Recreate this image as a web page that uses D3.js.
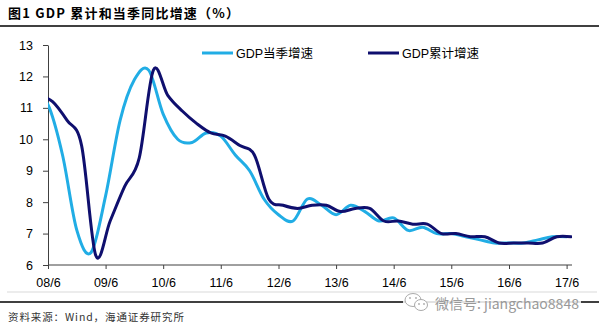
<!DOCTYPE html>
<html>
<head>
<meta charset="utf-8">
<script src="https://cdn.jsdelivr.net/npm/d3@7"></script>
<style>
  body { margin: 0; background: #fff; }
  svg { display: block; }
  .axis text { font-family: "Liberation Sans", Arial, sans-serif; font-size: 12.5px; fill: #000; }
  .axis line { stroke: #404040; }
</style>
</head>
<body>
<svg id="chart" width="599" height="330"></svg>
<script>
// quarter-end months, the first one only feeds the curve left of the axis
var quarters = [
  "2008-03","2008-06","2008-09","2008-12",
  "2009-03","2009-06","2009-09","2009-12",
  "2010-03","2010-06","2010-09","2010-12",
  "2011-03","2011-06","2011-09","2011-12",
  "2012-03","2012-06","2012-09","2012-12",
  "2013-03","2013-06","2013-09","2013-12",
  "2014-03","2014-06","2014-09","2014-12",
  "2015-03","2015-06","2015-09","2015-12",
  "2016-03","2016-06","2016-09","2016-12",
  "2017-03","2017-06"
];
// GDP当季增速 (%)
var gdpQuarter = [
  11.5, 11.1, 9.5, 7.1,
  6.4, 8.2, 10.6, 11.9,
  12.2, 10.8, 10.0, 9.9,
  10.2, 10.1, 9.5, 9.0,
  8.1, 7.6, 7.4, 8.1,
  7.9, 7.6, 7.9, 7.7,
  7.4, 7.5, 7.1, 7.2,
  7.0, 7.0, 6.9, 6.8,
  6.7, 6.7, 6.7, 6.8,
  6.9, 6.9
];
// GDP累计增速 (%)
var gdpYtd = [
  11.4, 11.2, 10.6, 9.8,
  6.3, 7.4, 8.5, 9.4,
  12.2, 11.4, 10.9, 10.5,
  10.2, 10.1, 9.8, 9.5,
  8.1, 7.9, 7.8, 7.9,
  7.9, 7.7, 7.8, 7.8,
  7.4, 7.4, 7.3, 7.3,
  7.0, 7.0, 6.9, 6.9,
  6.7, 6.7, 6.7, 6.7,
  6.9, 6.9
];
var yTicks = [6, 7, 8, 9, 10, 11, 12, 13];
var xTickLabels = ["08/6","09/6","10/6","11/6","12/6","13/6","14/6","15/6","16/6","17/6"];
var seriesNames = ["GDP当季增速", "GDP累计增速"];
var seriesColors = ["#21ade5", "#0f0f6e"];

var svg = d3.select("#chart");
var plot = {left: 48, right: 572, top: 45, bottom: 265};

// quarterly values sit at the start of the month, year-to-date ones at its end
function monthStart(q) { var p = q.split("-"); return new Date(+p[0], +p[1] - 1, 1); }
function monthEnd(q) { var p = q.split("-"); return new Date(+p[0], +p[1], 0); }
function labelDate(s) { var p = s.split("/"); return new Date(2000 + +p[0], +p[1] - 1, 1); }

var xScale = d3.scaleTime()
    .domain([labelDate(xTickLabels[0]), labelDate(xTickLabels[xTickLabels.length - 1])])
    .range([48, 566.6]);
var yScale = d3.scaleLinear().domain([6, 13]).range([plot.bottom, plot.top]);

// title and rules
svg.append("text")
    .attr("x", 8).attr("y", 18)
    .style("font-family", "'Noto Sans CJK SC', sans-serif")
    .style("font-weight", "bold").style("font-size", "13px")
    .style("letter-spacing", "1.2px")
    .text("图1  GDP 累计和当季同比增速（%）");
svg.append("line").attr("x1", 0).attr("x2", 599).attr("y1", 26).attr("y2", 26)
    .attr("stroke", "#000").attr("stroke-width", 1.5);
svg.append("line").attr("x1", 7).attr("x2", 597).attr("y1", 292).attr("y2", 292)
    .attr("stroke", "#d9d9d9").attr("stroke-width", 1);
svg.append("line").attr("x1", 0).attr("x2", 599).attr("y1", 302).attr("y2", 302)
    .attr("stroke", "#000").attr("stroke-width", 1.5);
svg.append("text")
    .attr("x", 8).attr("y", 321)
    .style("font-family", "'Noto Sans CJK SC', sans-serif")
    .style("font-size", "10.5px").style("fill", "#333")
    .style("letter-spacing", "0.9px")
    .text("资料来源：Wind，海通证券研究所");

// axes
var yAxis = d3.axisLeft(yScale).tickValues(yTicks).tickFormat(d3.format("d"))
    .tickSize(5).tickSizeOuter(0).tickPadding(10);
var gy = svg.append("g").attr("class", "axis").attr("transform", "translate(" + plot.left + ",0)").call(yAxis);
gy.select(".domain").attr("stroke", "#404040");

var xAxis = d3.axisBottom(xScale)
    .tickValues(xTickLabels.map(labelDate))
    .tickFormat(function(d, i) { return xTickLabels[i]; })
    .tickSize(4).tickSizeOuter(0).tickPadding(9);
var gx = svg.append("g").attr("class", "axis").attr("transform", "translate(0," + plot.bottom + ")").call(xAxis);
gx.select(".domain").remove();
gx.append("line").attr("x1", plot.left).attr("x2", plot.right).attr("y1", 0).attr("y2", 0)
    .attr("stroke", "#404040");

// lines
svg.append("clipPath").attr("id", "plotClip")
  .append("rect").attr("x", plot.left).attr("y", 30)
    .attr("width", plot.right - plot.left).attr("height", 240);

var line = d3.line()
    .x(function(d) { return xScale(d.date); })
    .y(function(d) { return yScale(d.value); })
    .curve(d3.curveCardinal.tension(0));

var lightData = quarters.map(function(q, i) { return {date: monthStart(q), value: gdpQuarter[i]}; });
var darkData = quarters.map(function(q, i) { return {date: monthEnd(q), value: gdpYtd[i]}; });

var lines = svg.append("g").attr("clip-path", "url(#plotClip)");
[lightData, darkData].forEach(function(data, i) {
  lines.append("path")
      .datum(data)
      .attr("d", line)
      .attr("fill", "none")
      .attr("stroke", seriesColors[i])
      .attr("stroke-width", 3)
      .attr("stroke-linejoin", "round")
      .attr("stroke-linecap", "round");
});

// legend
var legendX = [202, 368];
seriesNames.forEach(function(name, i) {
  var g = svg.append("g").attr("transform", "translate(" + legendX[i] + ",53)");
  g.append("line").attr("x1", 0).attr("x2", 31).attr("y1", 0).attr("y2", 0)
      .attr("stroke", seriesColors[i]).attr("stroke-width", 3);
  g.append("text").attr("x", 34).attr("y", 5)
      .style("font-family", "'Liberation Sans', 'Noto Sans CJK SC', sans-serif")
      .style("font-size", "12.5px")
      .text(name);
});

// account mark over the bottom rule
var wm = svg.append("g");
wm.append("rect").attr("x", 403).attr("y", 293).attr("width", 178).attr("height", 20)
    .attr("fill", "#fff").attr("opacity", 0.85);
wm.append("ellipse").attr("cx", 413).attr("cy", 300).attr("rx", 8).attr("ry", 6.5)
    .attr("fill", "#fff").attr("stroke", "#aaa").attr("stroke-width", 1);
wm.append("ellipse").attr("cx", 421).attr("cy", 305).attr("rx", 6.5).attr("ry", 5.5)
    .attr("fill", "#fff").attr("stroke", "#aaa").attr("stroke-width", 1);
[[410, 298], [416, 298], [419, 304], [424, 304]].forEach(function(p) {
  wm.append("circle").attr("cx", p[0]).attr("cy", p[1]).attr("r", 0.9).attr("fill", "#aaa");
});
wm.append("text").attr("x", 435).attr("y", 309)
    .style("font-family", "'Noto Sans CJK SC', sans-serif")
    .style("font-size", "14px").style("fill", "#999")
    .text("微信号: jiangchao8848");
</script>
</body>
</html>
